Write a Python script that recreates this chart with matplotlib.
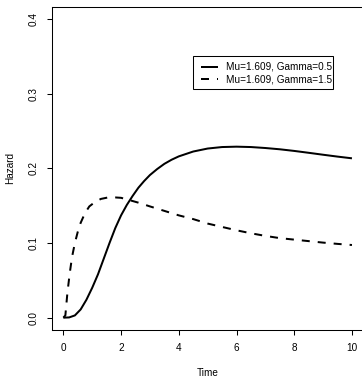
import matplotlib
matplotlib.use("Agg")
import matplotlib.pyplot as plt
from matplotlib import font_manager as fm
from matplotlib.patches import Rectangle
from matplotlib.lines import Line2D

# ---- data ----
time_g05 = [0, 0.2, 0.4, 0.6, 0.8, 1.0, 1.2, 1.4, 1.6, 1.8, 2.0, 2.2, 2.4, 2.6, 2.8,
            3.0, 3.25, 3.5, 3.75, 4.0, 4.5, 5.0, 5.5, 6.0, 6.5, 7.0, 7.5, 8.0, 8.5,
            9.0, 9.5, 10.0]
haz_g05 = [0.0, 0.0003, 0.003, 0.011, 0.024, 0.040, 0.058, 0.079, 0.100, 0.120, 0.137,
           0.151, 0.163, 0.174, 0.183, 0.191, 0.199, 0.206, 0.2115, 0.216, 0.2225, 0.2265,
           0.2285, 0.229, 0.2285, 0.2272, 0.2255, 0.2233, 0.2208, 0.2182, 0.2157, 0.2134]

time_g15 = [0, 0.07, 0.14, 0.22, 0.3, 0.4, 0.5, 0.6, 0.75, 0.9, 1.1, 1.3, 1.55, 1.8,
            2.0, 2.33, 2.6, 3.0, 3.5, 4.0, 4.5, 5.0, 5.5, 6.0, 6.5, 7.0, 7.5, 8.0, 8.5,
            9.0, 9.5, 10.0]
haz_g15 = [0.0, 0.003, 0.033, 0.059, 0.081, 0.100, 0.115, 0.127, 0.140, 0.149, 0.155,
           0.159, 0.161, 0.161, 0.1605, 0.157, 0.154, 0.149, 0.143, 0.137, 0.132, 0.126,
           0.1215, 0.117, 0.113, 0.1095, 0.1065, 0.1045, 0.1025, 0.1005, 0.0988, 0.0973]

labels = ["Mu=1.609, Gamma=0.5", "Mu=1.609, Gamma=1.5"]
x_ticks = [0, 2, 4, 6, 8, 10]
y_ticks = [0.0, 0.1, 0.2, 0.3, 0.4]
y_ticklabels = ["0.0", "0.1", "0.2", "0.3", "0.4"]
x_label = "Time"
y_label = "Hazard"

# ---- styling ----
W, H = 362, 377
DPI = 100

fp = None
for f in fm.findSystemFonts():
    if f.endswith("LiberationSans-Regular.ttf"):
        fp = fm.FontProperties(fname=f, size=7.2)
        break
if fp is None:
    fp = fm.FontProperties(family="Liberation Sans", size=7.2)

fig = plt.figure(figsize=(W / DPI, H / DPI), dpi=DPI)

def px(x, y):
    return (x / W, 1 - y / H)

left, right, top, bottom = 51.8, 363.5, 7.05, 329.6
ax = fig.add_axes([left / W, 1 - bottom / H, (right - left) / W, (bottom - top) / H])

LW = 1.44
ax.plot(time_g05, haz_g05, color='black', lw=LW, solid_capstyle='butt')
ax.plot(time_g15, haz_g15, color='black', lw=LW, linestyle=(0, (4, 4)), dash_capstyle='butt')

ax.set_xlim(-0.4, 10.4)
ax.set_ylim(-0.016, 0.416)
ax.set_xticks(x_ticks)
ax.set_xticklabels([str(v) for v in x_ticks], fontproperties=fp)
ax.set_yticks(y_ticks)
ax.set_yticklabels(y_ticklabels, rotation=90, va='center', fontproperties=fp)
ax.tick_params(direction='out', length=3.6, width=0.75, pad=6)
for s in ax.spines.values():
    s.set_linewidth(0.75)
ax.spines['right'].set_visible(False)

fig.text(*px(207.6, 372.7), x_label, ha='center', va='center', fontproperties=fp)
fig.text(*px(10, 168.3), y_label, ha='center', va='center', rotation=90, fontproperties=fp)

# legend drawn in figure coordinates
x0, y0 = px(193.3, 89.3)
x1, y1 = px(332.7, 56)
fig.patches.append(Rectangle((x0, y0), x1 - x0, y1 - y0, transform=fig.transFigure,
                             facecolor='white', edgecolor='black', lw=0.75, zorder=5))
styles = ['-', (0, (4, 4))]
for i, (lab, st) in enumerate(zip(labels, styles)):
    yy = 66.7 + i * 12.3
    (ax_, ay_), (bx_, by_) = px(200.7, yy), px(218.3, yy)
    fig.lines.append(Line2D([ax_, bx_], [ay_, by_], transform=fig.transFigure,
                            color='black', lw=LW, linestyle=st, dash_capstyle='butt',
                            solid_capstyle='butt', zorder=6))
    fig.text(*px(226, yy), lab, ha='left', va='center', fontproperties=fp, zorder=7)

fig.savefig("out.png", dpi=DPI)
